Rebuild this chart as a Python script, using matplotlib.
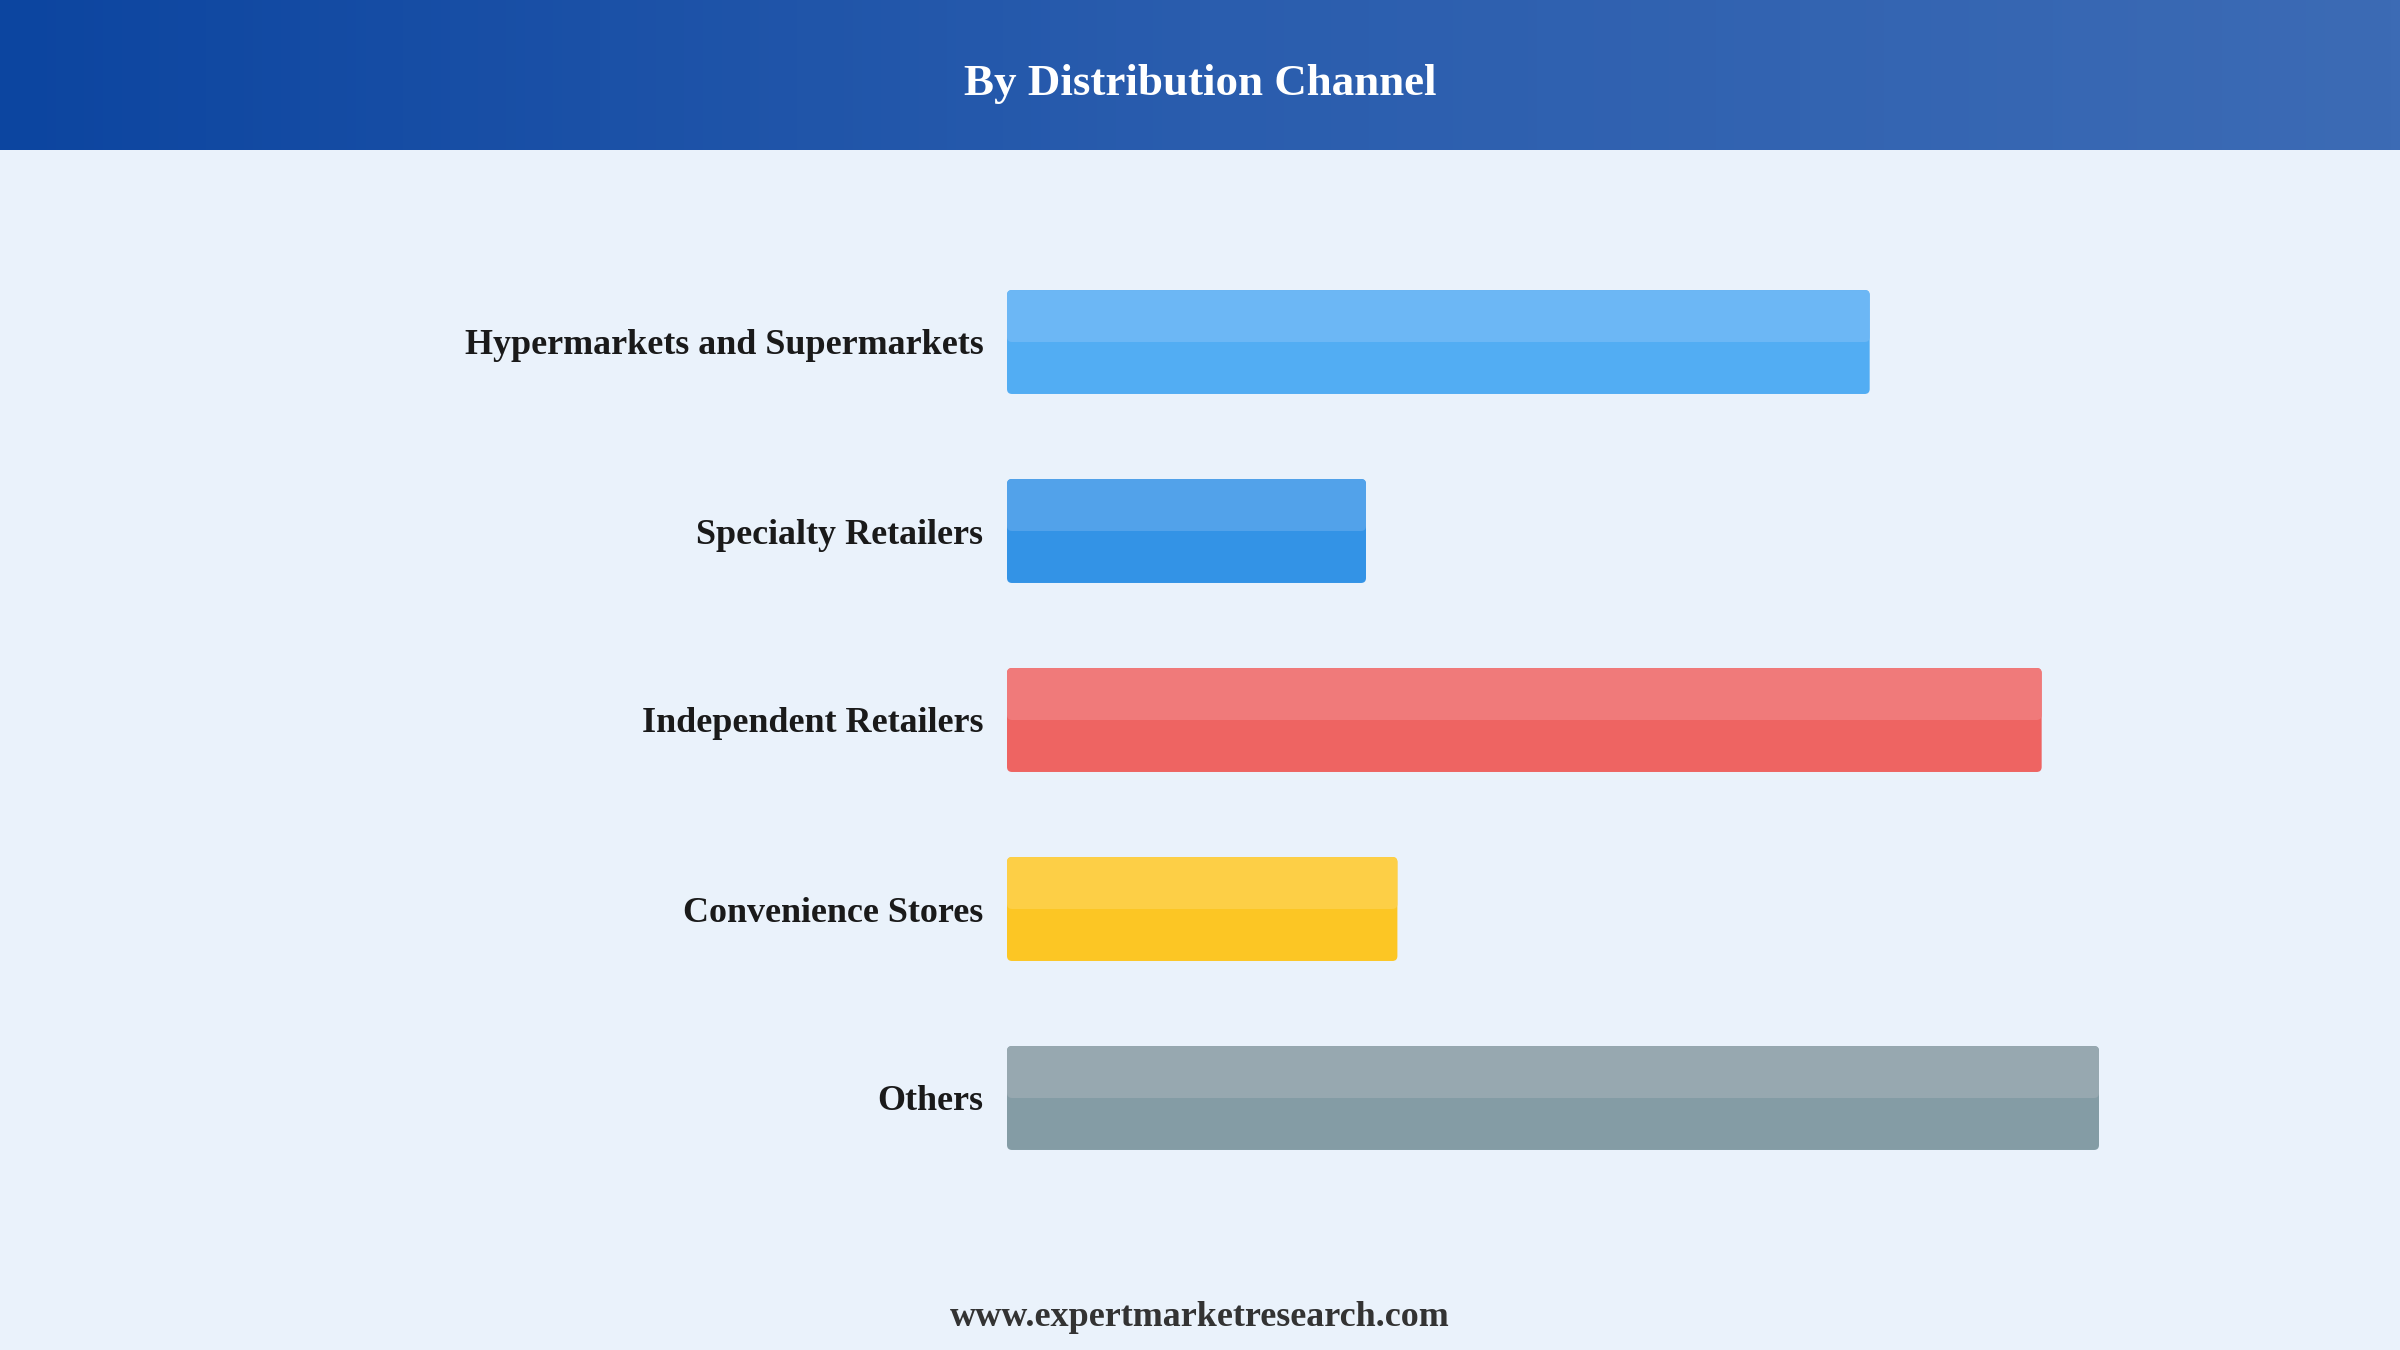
import numpy as np
import matplotlib
matplotlib.use("Agg")
import matplotlib.pyplot as plt
from matplotlib.patches import FancyBboxPatch
from matplotlib.colors import LinearSegmentedColormap

# ---- data ----
categories = ["Hypermarkets and Supermarkets", "Specialty Retailers",
              "Independent Retailers", "Convenience Stores", "Others"]
values = [31.6, 13.15, 37.9, 14.3, 40.0]
top_colors = ["#6CB7F5", "#52A2EA", "#F07A7A", "#FDCF46", "#97A8B0"]
bottom_colors = ["#52ADF3", "#3393E6", "#EE6462", "#FCC624", "#849CA5"]
title = "By Distribution Channel"
footer = "www.expertmarketresearch.com"

W, H = 2400, 1350
fig = plt.figure(figsize=(24, 13.5), dpi=100)
fig.patch.set_facecolor("#EAF2FB")
serif = ["Liberation Serif", "DejaVu Serif"]

# header gradient
hax = fig.add_axes([0, 1 - 150 / H, 1, 150 / H])
grad = np.linspace(0, 1, 512).reshape(1, -1)
cmap = LinearSegmentedColormap.from_list("hdr", ["#0C45A0", "#2A5DAE", "#3C6BB5"])
hax.imshow(grad, aspect="auto", cmap=cmap, extent=[0, 1, 0, 1])
hax.set_axis_off()
fig.text(0.5, 1 - 84 / H, title, ha="center", va="center", color="white",
         fontsize=32.4, fontweight="bold", family=serif)

# main axes
left_px, right_px = 1007, 2099
pitch = 189
top_px = 342 - pitch / 2
bot_px = top_px + pitch * 5
ax = fig.add_axes([left_px / W, 1 - bot_px / H, (right_px - left_px) / W, (bot_px - top_px) / H])
ax.set_facecolor("none")
xmax = 40.0
ax.set_xlim(0, xmax)
ax.set_ylim(4.5, -0.5)
bh = 0.55
ypos = np.arange(len(categories))
bars = ax.barh(ypos, values, height=bh, color="none", edgecolor="none")

x_per_px = xmax / (right_px - left_px)
y_per_px = 1.0 / pitch
aspect = y_per_px / x_per_px
rad = 5 * x_per_px
for b, ct, cb in zip(bars, top_colors, bottom_colors):
    x0, y0, w, h = b.get_x(), b.get_y(), b.get_width(), b.get_height()
    ax.add_patch(FancyBboxPatch((x0, y0), w, h,
                                boxstyle=f"round,pad=0,rounding_size={rad}",
                                mutation_aspect=aspect, facecolor=cb, edgecolor="none"))
    ax.add_patch(FancyBboxPatch((x0, y0), w, h / 2,
                                boxstyle=f"round,pad=0,rounding_size={rad}",
                                mutation_aspect=aspect, facecolor=ct, edgecolor="none"))

ax.set_yticks(ypos)
ax.set_yticklabels(categories, fontsize=25.9, fontweight="bold", family=serif, color="#1a1a1a")
ax.tick_params(axis="y", length=0, pad=17)
ax.set_xticks([])
for s in ax.spines.values():
    s.set_visible(False)

fig.text(0.5, 1 - 1318 / H, footer, ha="center", va="center", color="#333333",
         fontsize=25.9, fontweight="bold", family=serif)

fig.savefig("out.png", dpi=100, facecolor=fig.get_facecolor())
